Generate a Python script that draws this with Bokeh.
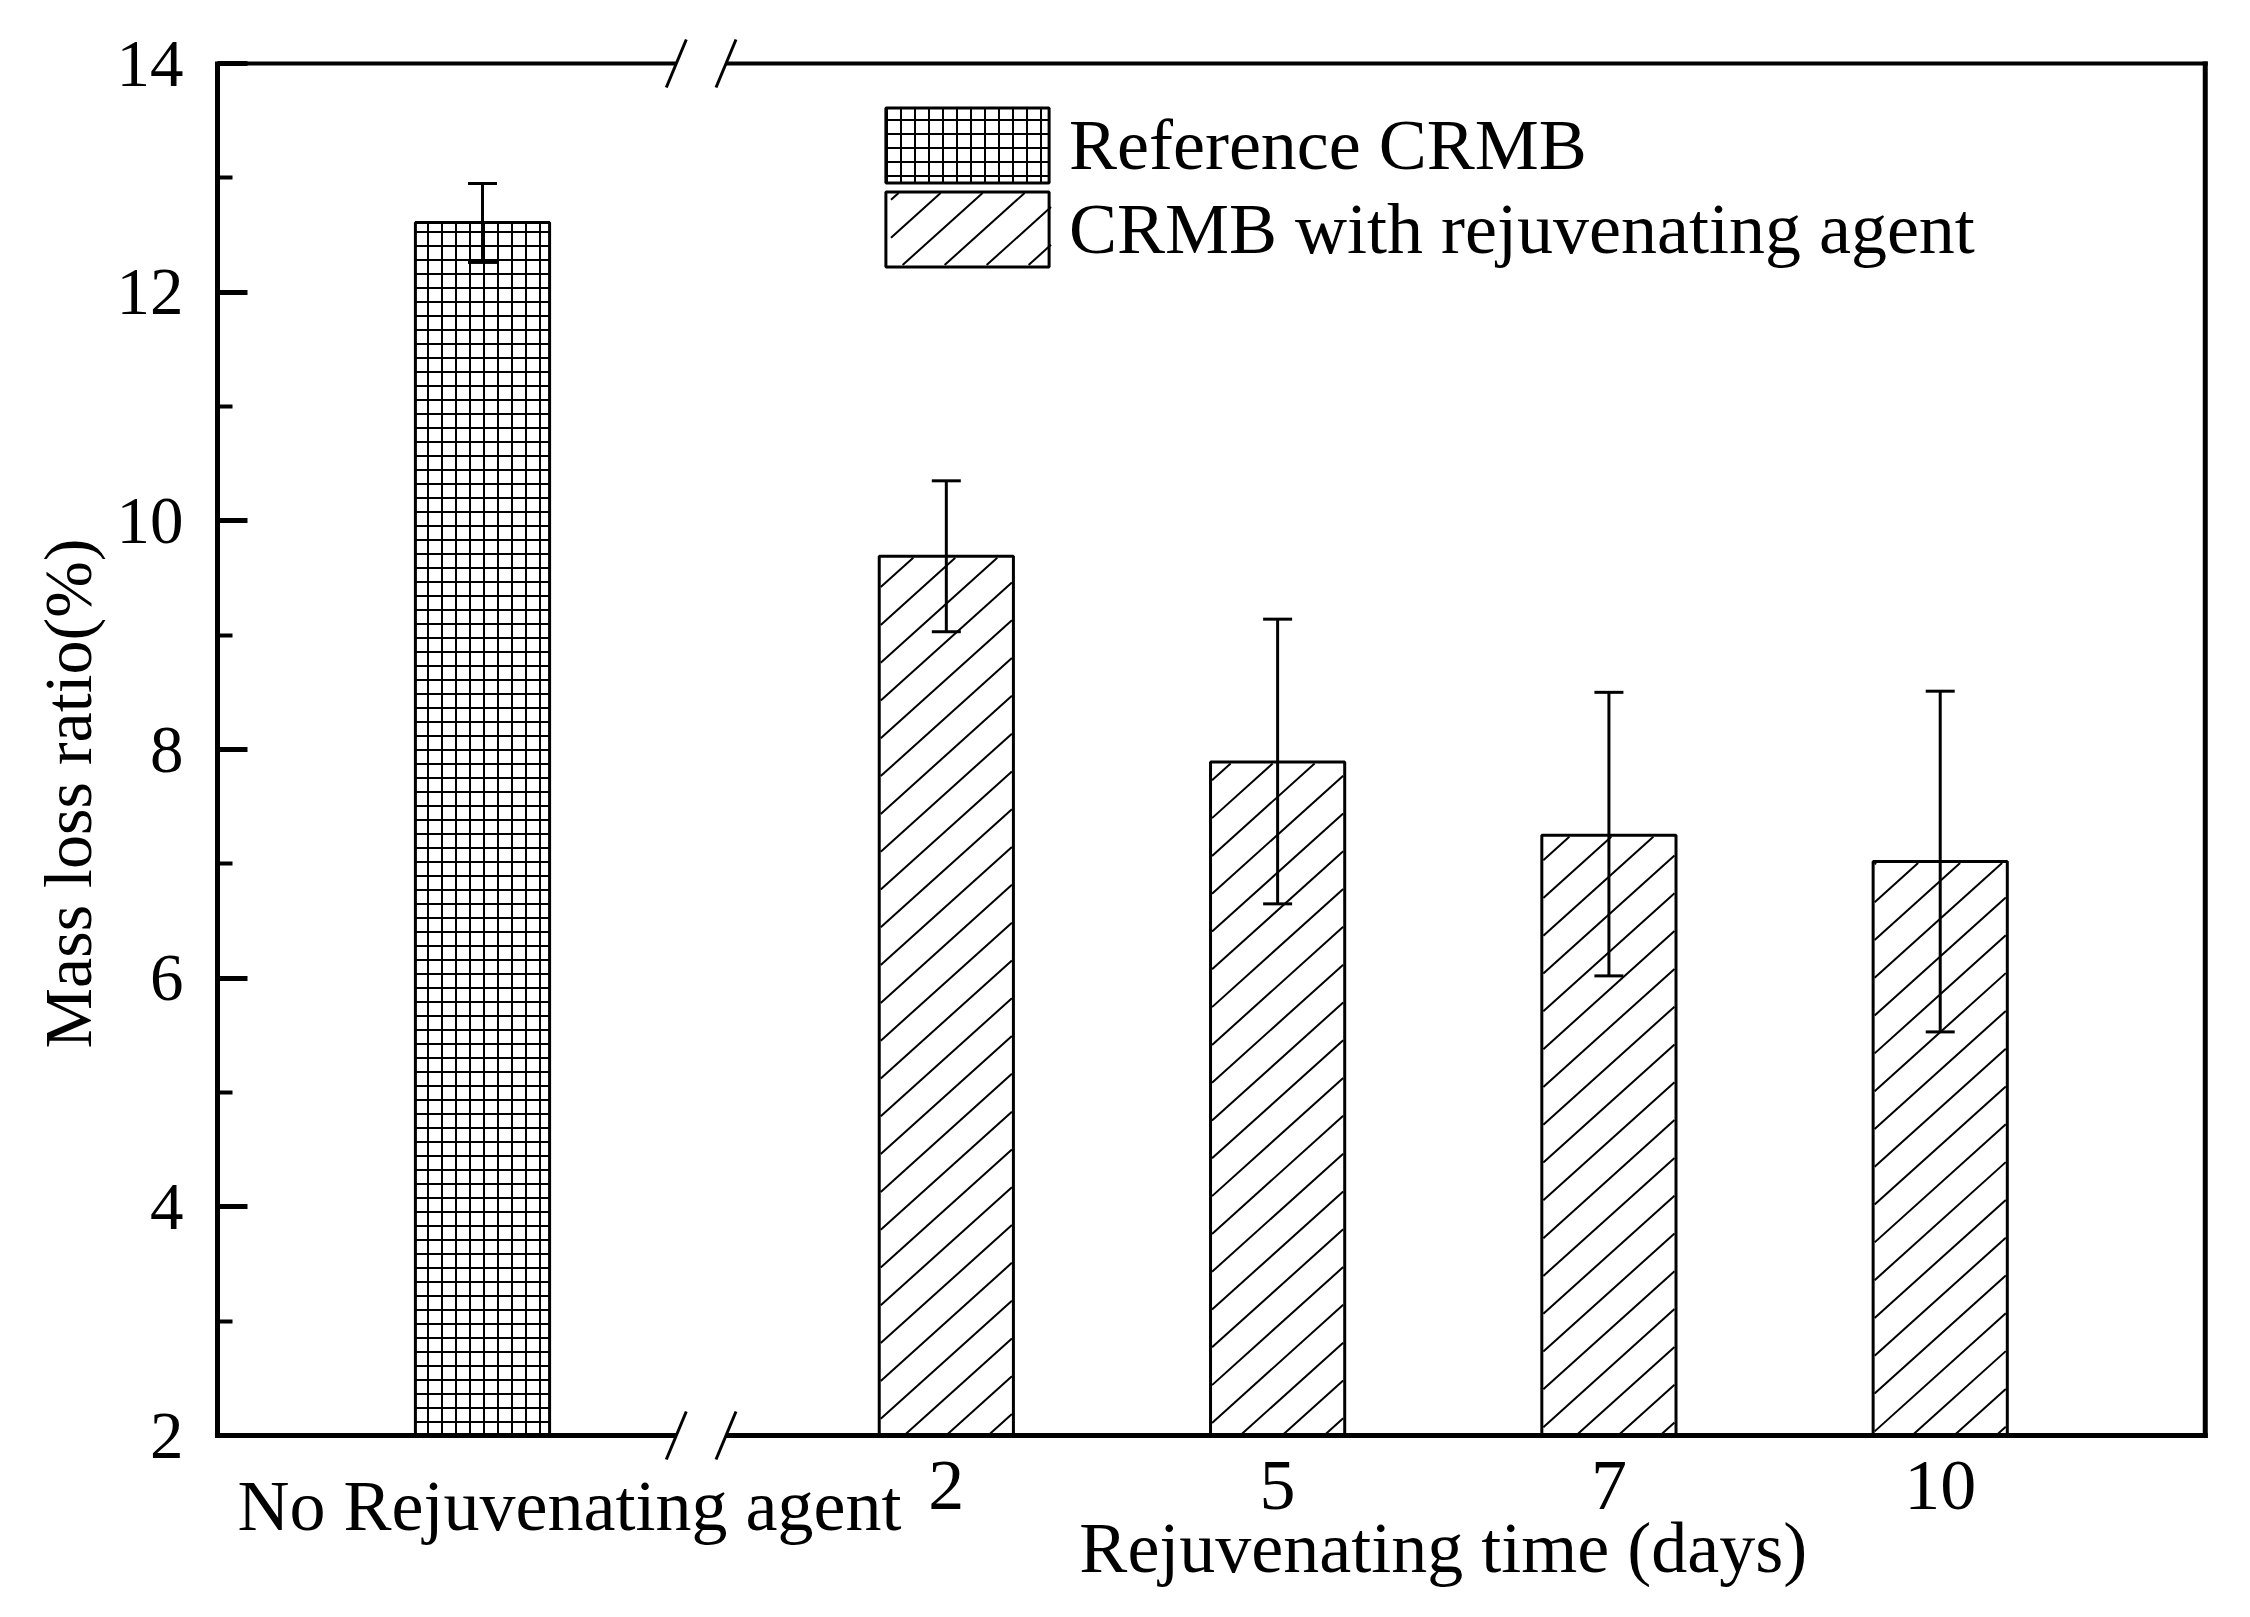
import math
from bokeh.plotting import figure
from bokeh.models import (ColumnDataSource, Range1d, Whisker, TeeHead, LinearAxis, FixedTicker,
                          SingleIntervalTicker, Legend, LegendItem)
from bokeh.embed import file_html
from bokeh.resources import INLINE

# ---------------- data ----------------
ref_label = "No Rejuvenating agent"
ref_value = [12.61]
ref_upper = [12.95]
ref_lower = [12.26]

days_labels = ["2", "5", "7", "10"]
rej_value = [9.69, 7.89, 7.25, 7.02]
rej_upper = [10.35, 9.14, 8.50, 8.51]
rej_lower = [9.03, 6.65, 6.02, 5.53]

legend_labels = ["Reference CRMB", "CRMB with rejuvenating agent"]
x_title = "Rejuvenating time (days)"
y_title = "Mass loss ratio(%)"
y_min, y_max, y_step = 2, 14, 2

# ---------------- layout (whole canvas is the frame) ----------------
FONT = "Liberation Serif"
W, H = 2234, 1601
X_ORIGIN_PX = 482               # canvas x of category 0
X_UNIT = 331.3                  # pixels per category step
Y_TOP_PX = 63                   # canvas y of y_max
Y_UNIT = 1372 / (y_max - y_min) # pixels per y unit

x_start = -X_ORIGIN_PX / X_UNIT
x_end = x_start + W / X_UNIT
y_end = y_max + Y_TOP_PX / Y_UNIT
y_start = y_end - H / Y_UNIT


def px2x(X):
    return (X - X_ORIGIN_PX) / X_UNIT


def px2y(Y):
    return y_max - (Y - Y_TOP_PX) / Y_UNIT


def x2px(x):
    return X_ORIGIN_PX + x * X_UNIT


def y2px(y):
    return Y_TOP_PX + (y_max - y) * Y_UNIT


ref_x = [0.0]
rej_x = [round(1.4 + i, 2) for i in range(len(days_labels))]
bar_w = 0.405
x_left = -0.8
x_right = 5.2

p = figure(width=W, height=H, x_range=Range1d(x_start, x_end),
           y_range=Range1d(y_start, y_end),
           x_axis_location=None, y_axis_location=None,
           toolbar_location=None, output_backend="svg", title=None,
           min_border=0, min_border_left=0, min_border_right=0,
           min_border_top=0, min_border_bottom=0)
p.outline_line_color = None
p.grid.visible = False
p.background_fill_color = "white"
p.border_fill_color = "white"

# main y axis
ax = LinearAxis(fixed_location=x_left, bounds=(y_min, y_max),
                ticker=SingleIntervalTicker(interval=y_step, num_minor_ticks=2),
                axis_line_width=5, axis_line_color="black",
                major_tick_in=30, major_tick_out=0, minor_tick_in=15, minor_tick_out=0,
                major_tick_line_width=5, minor_tick_line_width=4,
                major_tick_line_color="black", minor_tick_line_color="black",
                major_label_text_font=FONT, major_label_text_font_size="67px",
                major_label_text_color="black", major_label_standoff=34)
p.add_layout(ax, "left")


def text_axis(ticks, labels, standoff, orientation="horizontal", loc=None, size="72px"):
    return LinearAxis(fixed_location=loc, ticker=FixedTicker(ticks=ticks),
                      major_label_overrides=dict(zip(ticks, labels)),
                      major_label_orientation=orientation,
                      axis_line_color=None, major_tick_line_color=None, minor_tick_line_color=None,
                      major_tick_in=0, major_tick_out=0, minor_tick_in=0, minor_tick_out=0,
                      major_label_standoff=standoff,
                      major_label_text_font=FONT, major_label_text_font_size=size,
                      major_label_text_color="black")


p.add_layout(text_axis(rej_x, days_labels, 26, loc=y_min), "below")
ref_lab_x = round(ref_x[0] + 87 / X_UNIT, 4)
p.add_layout(text_axis([ref_lab_x], [ref_label], 30, loc=y_min), "below")
title_x = round(sum(rej_x) / len(rej_x), 4)
p.add_layout(text_axis([title_x], [x_title], 72, loc=y_min), "below")
title_y = round((y_min + y_max) / 2 - 44 / Y_UNIT, 4)
p.add_layout(text_axis([title_y], [y_title], 111, orientation="vertical", loc=x_left,
                       size="68px"), "left")

# bars
src_ref = ColumnDataSource(dict(x=ref_x, top=ref_value, upper=ref_upper, lower=ref_lower))
src_rej = ColumnDataSource(dict(x=rej_x, top=rej_value, upper=rej_upper, lower=rej_lower))

r_ref = p.vbar(x="x", top="top", bottom=y_min, width=bar_w, source=src_ref,
               fill_color="white", line_color="black", line_width=3,
               hatch_pattern="+", hatch_scale=14, hatch_weight=2, hatch_color="black")
r_rej = p.vbar(x="x", top="top", bottom=y_min, width=bar_w, source=src_rej,
               fill_color=None, line_color="black", line_width=3)


# diagonal hatch for the rejuvenating bars, computed from each bar's screen rectangle
def hatch(X0, X1, Y0, Y1, spacing=42.0, t=0.9, phase=20.0, inset=1.5):
    X0, X1, Y0, Y1 = X0 + inset, X1 - inset, Y0 + inset, Y1 - inset
    out = []
    kmin = math.floor((X0 + Y0 / t - phase) / spacing) - 1
    kmax = math.ceil((X1 + Y1 / t - phase) / spacing) + 1
    for k in range(kmin, kmax + 1):
        c = phase + k * spacing
        xa = max(X0, c - Y1 / t)
        xb = min(X1, c - Y0 / t)
        if xb - xa > 0.5:
            out.append((xa, -t * (xa - c), xb, -t * (xb - c)))
    return out


segs = []
for xc, v in zip(rej_x, rej_value):
    segs += hatch(x2px(xc - bar_w / 2), x2px(xc + bar_w / 2), y2px(v), y2px(y_min))

# legend placement (canvas pixels of the glyph boxes)
LEG_BOX_X0, LEG_BOX_X1 = 889, 1052
LEG_BOX_Y = [(107, 182), (191, 266)]
glyph_w, glyph_h = 204, 94
segs += hatch(LEG_BOX_X0, LEG_BOX_X1, LEG_BOX_Y[1][0], LEG_BOX_Y[1][1])

p.segment(x0=[px2x(s[0]) for s in segs], y0=[px2y(s[1]) for s in segs],
          x1=[px2x(s[2]) for s in segs], y1=[px2y(s[3]) for s in segs],
          line_color="black", line_width=2)

for src in (src_ref, src_rej):
    p.add_layout(Whisker(source=src, base="x", upper="upper", lower="lower", level="annotation",
                         line_color="black", line_width=3,
                         upper_head=TeeHead(size=29, line_width=3, line_color="black"),
                         lower_head=TeeHead(size=29, line_width=3, line_color="black")))

# frame lines with axis break
bx = 0.66
gap = 0.075
sdx = 10 / X_UNIT
sdy = 24 / Y_UNIT
ext = 2.5 / X_UNIT
p.segment(x0=[x_left - ext, bx + gap], y0=[y_max, y_max], x1=[bx - gap, x_right + ext],
          y1=[y_max, y_max], line_color="black", line_width=4)
p.segment(x0=[x_left - ext, bx + gap], y0=[y_min, y_min], x1=[bx - gap, x_right + ext],
          y1=[y_min, y_min], line_color="black", line_width=5)
p.segment(x0=[x_right], y0=[y_min - 2.5 / Y_UNIT], x1=[x_right], y1=[y_max + 2 / Y_UNIT],
          line_color="black", line_width=5)
sx = [bx - gap, bx + gap, bx - gap, bx + gap]
sy = [y_max, y_max, y_min, y_min]
p.segment(x0=[v - sdx for v in sx], y0=[v - sdy for v in sy],
          x1=[v + sdx for v in sx], y1=[v + sdy for v in sy],
          line_color="black", line_width=3)

# legends (one per item for exact placement)
for lab, rend, (by0, by1) in ((legend_labels[0], r_ref, LEG_BOX_Y[0]),
                              (legend_labels[1], r_rej, LEG_BOX_Y[1])):
    top_plot = by0 - 0.1 * glyph_h
    lg = Legend(items=[LegendItem(label=lab, renderers=[rend])],
                location=(round(LEG_BOX_X0 - 0.1 * glyph_w - 3.4),
                          round(H - top_plot - glyph_h)),
                glyph_width=glyph_w, glyph_height=glyph_h, spacing=0,
                padding=0, margin=0, label_standoff=0,
                border_line_color=None, background_fill_alpha=0,
                label_text_font=FONT, label_text_font_size="72px", label_text_color="black")
    p.add_layout(lg)

open("out.html", "w").write(file_html(p, INLINE))
